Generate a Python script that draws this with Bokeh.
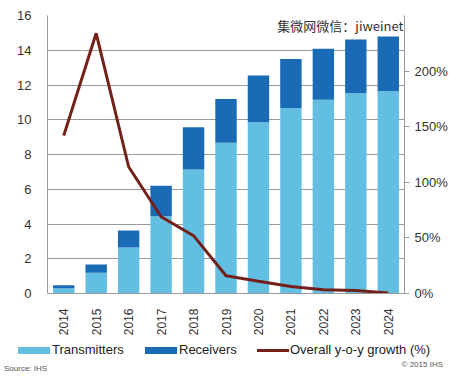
from math import pi
from bokeh.plotting import figure
from bokeh.layouts import column
from bokeh.models import (ColumnDataSource, Range1d, LinearAxis, FixedTicker,
                          CustomJSTickFormatter, Label, FactorRange, Div)
from bokeh.embed import file_html
from bokeh.resources import INLINE

years = ["2014", "2015", "2016", "2017", "2018", "2019", "2020", "2021", "2022", "2023", "2024"]
transmitters = [0.3, 1.2, 2.65, 4.45, 7.14, 8.67, 9.86, 10.67, 11.15, 11.53, 11.64]
receivers = [0.18, 0.47, 0.98, 1.75, 2.43, 2.53, 2.69, 2.83, 2.93, 3.09, 3.15]
growth = [142, 234, 114, 69, 52, 16, 11, 6.3, 3.3, 2.7, 0.5]
left_ticks = [0, 2, 4, 6, 8, 10, 12, 14, 16]
right_ticks = [0, 50, 100, 150, 200]
series_names = ["Transmitters", "Receivers", "Overall y-o-y growth (%)"]

src = ColumnDataSource(dict(year=years, Transmitters=transmitters, Receivers=receivers,
                            growth=growth))

FONT = "Liberation Sans"
GRID = "#9a9a9a"
TXT = "#333333"
C_TX, C_RX, C_LINE = "#62bfe2", "#1a6bb6", "#74201a"

p = figure(width=450, height=338, x_range=FactorRange(*years, range_padding=0),
           y_range=Range1d(0, 16), output_backend="svg", toolbar_location=None,
           min_border_left=47, min_border_right=45, min_border_top=15, min_border_bottom=45)
p.outline_line_color = None
p.extra_y_ranges = {"pct": Range1d(0, 250)}

bars = p.vbar_stack(["Transmitters", "Receivers"], x="year", width=0.66, source=src,
                    color=[C_TX, C_RX], line_color=None)
line = p.line("year", "growth", source=src, y_range_name="pct", line_color=C_LINE,
              line_width=3)

p.yaxis.ticker = FixedTicker(ticks=left_ticks)
p.yaxis.major_tick_line_color = None
p.yaxis.minor_tick_line_color = None
p.yaxis.axis_line_color = GRID
p.yaxis.major_label_text_font = FONT
p.yaxis.major_label_text_font_size = "13px"
p.yaxis.major_label_text_color = TXT
p.yaxis.major_label_standoff = 10

ra = LinearAxis(y_range_name="pct", ticker=FixedTicker(ticks=right_ticks),
                formatter=CustomJSTickFormatter(code="return tick + '%';"))
ra.axis_line_color = GRID
ra.major_tick_line_color = GRID
ra.major_tick_in = 0
ra.major_tick_out = 5
ra.minor_tick_line_color = None
ra.major_label_text_font = FONT
ra.major_label_text_font_size = "13px"
ra.major_label_text_color = TXT
ra.major_label_standoff = 5
p.add_layout(ra, "right")

p.xaxis.major_label_orientation = pi / 2
p.xaxis.major_tick_line_color = None
p.xaxis.axis_line_color = GRID
p.xaxis.major_label_text_font = FONT
p.xaxis.major_label_text_font_size = "12px"
p.xaxis.major_label_text_color = TXT
p.xaxis.major_label_standoff = 9

p.xgrid.grid_line_color = None
p.ygrid.grid_line_color = GRID
p.ygrid.ticker = FixedTicker(ticks=left_ticks)

p.add_layout(Label(x=356, y=278, x_units="screen", y_units="screen",
                   text="集微网微信：jiweinet", text_align="right", text_baseline="top",
                   text_font="Noto Sans CJK SC", text_font_size="13px",
                   text_color="#333333", background_fill_color="white"))

# legend and footnotes strip (HTML)
sw = "position:absolute;"
html = (
    f'<div style="position:relative;width:450px;height:38px;font-family:{FONT},Arial,sans-serif;">'
    f'<span style="{sw}left:18px;top:9px;width:32px;height:7px;background:{C_TX};"></span>'
    f'<span style="{sw}left:52px;top:4px;font-size:13px;line-height:16px;color:#222;white-space:nowrap;">{series_names[0]}</span>'
    f'<span style="{sw}left:145px;top:9px;width:32px;height:7px;background:{C_RX};"></span>'
    f'<span style="{sw}left:179px;top:4px;font-size:13px;line-height:16px;color:#222;white-space:nowrap;">{series_names[1]}</span>'
    f'<span style="{sw}left:257px;top:11px;width:32px;height:3px;background:{C_LINE};"></span>'
    f'<span style="{sw}left:290px;top:4px;font-size:13px;line-height:16px;color:#222;white-space:nowrap;">{series_names[2]}</span>'
    f'<span style="{sw}right:7px;top:22px;font-size:8px;line-height:10px;color:#555;white-space:nowrap;">© 2015 IHS</span>'
    f'<span style="{sw}left:4px;top:26px;font-size:8px;line-height:10px;color:#555;white-space:nowrap;">Source: IHS</span>'
    '</div>'
)
legend_div = Div(text=html, width=450, height=38, margin=0)

layout = column(p, legend_div, spacing=0)
open("out.html", "w").write(file_html(layout, INLINE))
